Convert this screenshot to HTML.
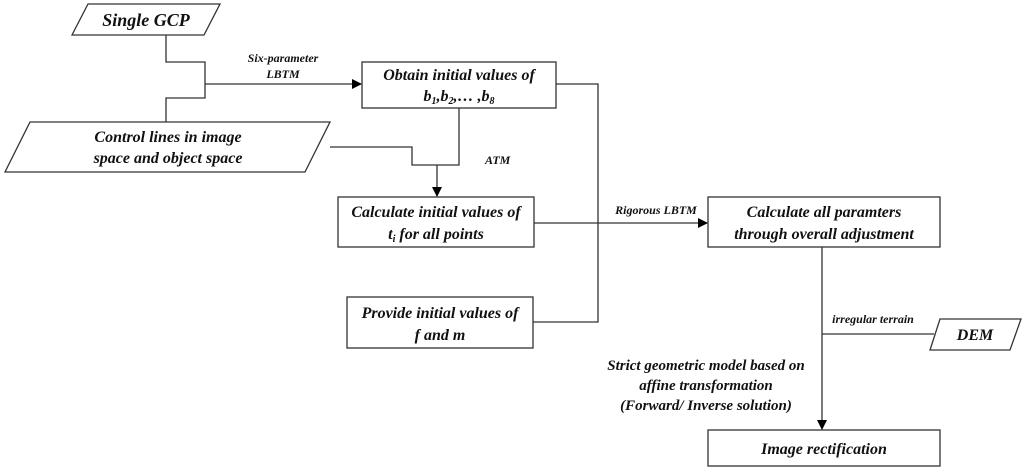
<!DOCTYPE html>
<html><head><meta charset="utf-8"><style>
body{margin:0;background:#fff;}
svg text{font-family:"Liberation Serif",serif;font-weight:bold;font-style:italic;fill:#111;}
</style></head><body>
<svg width="1024" height="471" viewBox="0 0 1024 471" xmlns="http://www.w3.org/2000/svg">
<defs><marker id="a" markerWidth="10" markerHeight="10" refX="9" refY="5" orient="auto" markerUnits="userSpaceOnUse"><path d="M0,0 L10,5 L0,10 z" fill="#000"/></marker></defs>
<g fill="none" stroke="#333" stroke-width="1.3">
<polygon points="88,4 220,4 204,35 72,35"/>
<polygon points="30,122 330,122 305,172 5,172"/>
<rect x="362" y="62" width="194" height="46"/>
<rect x="338" y="197" width="196" height="50"/>
<rect x="347" y="297" width="186" height="51"/>
<rect x="708" y="197" width="232" height="50"/>
<rect x="708" y="430" width="232" height="36"/>
<polygon points="940,319 1021,319 1010,350 930,350"/>
<polyline points="166,35 166,62 205,62 205,98 166,98 166,122"/>
<line x1="205" y1="84" x2="361" y2="84" marker-end="url(#a)"/>
<polyline points="556,84 598,84 598,322 533,322"/>
<polyline points="330,147 412,147 412,165 459,165 459,108"/>
<line x1="437" y1="165" x2="437" y2="196" marker-end="url(#a)"/>
<line x1="534" y1="223" x2="707" y2="223" marker-end="url(#a)"/>
<line x1="822" y1="247" x2="822" y2="429" marker-end="url(#a)"/>
<line x1="822" y1="334" x2="934" y2="334"/>
</g>
<g text-anchor="middle">
<text x="146" y="26" font-size="18">Single GCP</text>
<text x="283" y="62" font-size="12">Six-parameter</text>
<text x="283" y="78" font-size="12">LBTM</text>
<text x="459" y="80" font-size="16">Obtain initial values of</text>
<text x="459" y="101" font-size="16">b<tspan font-size="10" dy="3">1</tspan><tspan dy="-3">,b</tspan><tspan font-size="10" dy="3">2</tspan><tspan dy="-3">,… ,b</tspan><tspan font-size="10" dy="3">8</tspan></text>
<text x="168" y="142" font-size="16">Control lines in image</text>
<text x="168" y="163" font-size="16">space and object space</text>
<text x="485" y="164" font-size="12" text-anchor="start">ATM</text>
<text x="436" y="217" font-size="16">Calculate initial values of</text>
<text x="436" y="239" font-size="16">t<tspan font-size="10" dy="3">i</tspan><tspan dy="-3">  for all points</tspan></text>
<text x="656" y="214" font-size="12">Rigorous LBTM</text>
<text x="824" y="217" font-size="16">Calculate all paramters</text>
<text x="824" y="239" font-size="16">through overall adjustment</text>
<text x="440" y="318" font-size="16">Provide initial values of</text>
<text x="440" y="340" font-size="16">f and m</text>
<text x="873" y="323" font-size="12">irregular terrain</text>
<text x="975" y="340" font-size="16">DEM</text>
<text x="706" y="370" font-size="15">Strict geometric model based on</text>
<text x="706" y="390" font-size="15">affine transformation</text>
<text x="706" y="410" font-size="15">(Forward/ Inverse solution)</text>
<text x="824" y="454" font-size="16">Image rectification</text>
</g>
</svg>
</body></html>
